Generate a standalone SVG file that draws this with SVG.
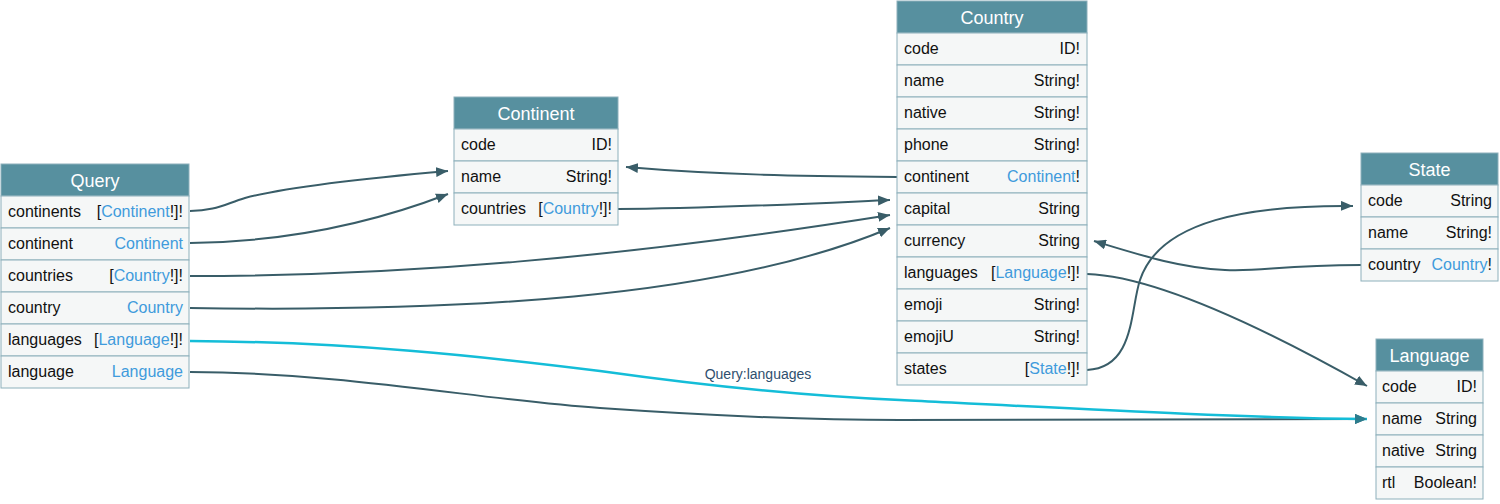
<svg xmlns="http://www.w3.org/2000/svg" width="1500" height="504" viewBox="0 0 1500 504">
<style>
.hd{fill:#57909f;stroke:#8db0bb;stroke-width:1}
.rw{fill:#f5f7f7;stroke:#8db0bb;stroke-width:1}
.ht{font-family:"Liberation Sans",Arial,sans-serif;font-size:18px;fill:#ffffff;text-anchor:middle}
.fn{font-family:"Liberation Sans",Arial,sans-serif;font-size:16px;fill:#111111}
.ft{font-family:"Liberation Sans",Arial,sans-serif;font-size:16px;fill:#111111;text-anchor:end}
.lk{fill:#3f9bdc}
.e{fill:none;stroke:#395d68;stroke-width:2}
.hl{fill:none;stroke:#14bdd8;stroke-width:2.5}
.lbl{font-family:"Liberation Sans",Arial,sans-serif;font-size:14px;fill:#2f4f6e;text-anchor:middle}
</style>
<defs>
<marker id="a" viewBox="0 0 12 10" refX="12" refY="5" markerWidth="12" markerHeight="10" markerUnits="userSpaceOnUse" orient="auto">
<path d="M0,0 L12,5 L0,10 Z" fill="#395d68"/>
</marker>
<marker id="ah" viewBox="0 0 12 10" refX="12" refY="5" markerWidth="12" markerHeight="10" markerUnits="userSpaceOnUse" orient="auto">
<path d="M0,0 L12,5 L0,10 Z" fill="#2c7d8e"/>
</marker>
</defs>

<g id="connectors">
<path class="e" d="M190,211 C215,211 225,204 245,198 C290,186 380,177 448,171" marker-end="url(#a)"/>
<path class="e" d="M190,243 C270,242 360,228 448,194" marker-end="url(#a)"/>
<path class="e" d="M190,276 C400,276 620,258 890,215" marker-end="url(#a)"/>
<path class="e" d="M190,308 C450,312 720,300 890,228" marker-end="url(#a)"/>
<path class="e" d="M190,372 C350,373 480,400 600,408 C700,415 800,420 900,420 L1367,419" marker-end="url(#a)"/>
<path class="hl" d="M190,341 C350,342 480,356 600,371 C700,385 800,396 900,400 C1100,410 1250,418 1367,419" marker-end="url(#ah)"/>
<text class="lbl" x="758" y="379">Query:languages</text>
<path class="e" d="M618,209 C700,209 800,204 890,200" marker-end="url(#a)"/>
<path class="e" d="M897,177 C800,176 720,175 626,167" marker-end="url(#a)"/>
<path class="e" d="M1087,274 C1150,276 1250,320 1367,386" marker-end="url(#a)"/>
<path class="e" d="M1087,370 C1135,368 1130,310 1140,280 C1160,220 1250,205 1353,206" marker-end="url(#a)"/>
<path class="e" d="M1361,265 C1280,265 1260,272 1225,270 C1180,268 1140,255 1094,241" marker-end="url(#a)"/>
</g>

<g id="Query">
<rect class="hd" x="1" y="164" width="188" height="32"/>
<text class="ht" x="95" y="186.5">Query</text>
<rect class="rw" x="1" y="196" width="188" height="32"/>
<text class="fn" x="8" y="217">continents</text>
<text class="ft" x="183" y="217">[<tspan class="lk">Continent</tspan>!]!</text>
<rect class="rw" x="1" y="228" width="188" height="32"/>
<text class="fn" x="8" y="249">continent</text>
<text class="ft" x="183" y="249"><tspan class="lk">Continent</tspan></text>
<rect class="rw" x="1" y="260" width="188" height="32"/>
<text class="fn" x="8" y="281">countries</text>
<text class="ft" x="183" y="281">[<tspan class="lk">Country</tspan>!]!</text>
<rect class="rw" x="1" y="292" width="188" height="32"/>
<text class="fn" x="8" y="313">country</text>
<text class="ft" x="183" y="313"><tspan class="lk">Country</tspan></text>
<rect class="rw" x="1" y="324" width="188" height="32"/>
<text class="fn" x="8" y="345">languages</text>
<text class="ft" x="183" y="345">[<tspan class="lk">Language</tspan>!]!</text>
<rect class="rw" x="1" y="356" width="188" height="32"/>
<text class="fn" x="8" y="377">language</text>
<text class="ft" x="183" y="377"><tspan class="lk">Language</tspan></text>
</g>

<g id="Continent">
<rect class="hd" x="454" y="97" width="164" height="32"/>
<text class="ht" x="536" y="119.5">Continent</text>
<rect class="rw" x="454" y="129" width="164" height="32"/>
<text class="fn" x="461" y="150">code</text>
<text class="ft" x="612" y="150">ID!</text>
<rect class="rw" x="454" y="161" width="164" height="32"/>
<text class="fn" x="461" y="182">name</text>
<text class="ft" x="612" y="182">String!</text>
<rect class="rw" x="454" y="193" width="164" height="32"/>
<text class="fn" x="461" y="214">countries</text>
<text class="ft" x="612" y="214">[<tspan class="lk">Country</tspan>!]!</text>
</g>

<g id="Country">
<rect class="hd" x="897" y="1" width="190" height="32"/>
<text class="ht" x="992" y="23.5">Country</text>
<rect class="rw" x="897" y="33" width="190" height="32"/>
<text class="fn" x="904" y="54">code</text>
<text class="ft" x="1080" y="54">ID!</text>
<rect class="rw" x="897" y="65" width="190" height="32"/>
<text class="fn" x="904" y="86">name</text>
<text class="ft" x="1080" y="86">String!</text>
<rect class="rw" x="897" y="97" width="190" height="32"/>
<text class="fn" x="904" y="118">native</text>
<text class="ft" x="1080" y="118">String!</text>
<rect class="rw" x="897" y="129" width="190" height="32"/>
<text class="fn" x="904" y="150">phone</text>
<text class="ft" x="1080" y="150">String!</text>
<rect class="rw" x="897" y="161" width="190" height="32"/>
<text class="fn" x="904" y="182">continent</text>
<text class="ft" x="1080" y="182"><tspan class="lk">Continent</tspan>!</text>
<rect class="rw" x="897" y="193" width="190" height="32"/>
<text class="fn" x="904" y="214">capital</text>
<text class="ft" x="1080" y="214">String</text>
<rect class="rw" x="897" y="225" width="190" height="32"/>
<text class="fn" x="904" y="246">currency</text>
<text class="ft" x="1080" y="246">String</text>
<rect class="rw" x="897" y="257" width="190" height="32"/>
<text class="fn" x="904" y="278">languages</text>
<text class="ft" x="1080" y="278">[<tspan class="lk">Language</tspan>!]!</text>
<rect class="rw" x="897" y="289" width="190" height="32"/>
<text class="fn" x="904" y="310">emoji</text>
<text class="ft" x="1080" y="310">String!</text>
<rect class="rw" x="897" y="321" width="190" height="32"/>
<text class="fn" x="904" y="342">emojiU</text>
<text class="ft" x="1080" y="342">String!</text>
<rect class="rw" x="897" y="353" width="190" height="32"/>
<text class="fn" x="904" y="374">states</text>
<text class="ft" x="1080" y="374">[<tspan class="lk">State</tspan>!]!</text>
</g>

<g id="State">
<rect class="hd" x="1361" y="153" width="137" height="32"/>
<text class="ht" x="1429.5" y="175.5">State</text>
<rect class="rw" x="1361" y="185" width="137" height="32"/>
<text class="fn" x="1368" y="206">code</text>
<text class="ft" x="1492" y="206">String</text>
<rect class="rw" x="1361" y="217" width="137" height="32"/>
<text class="fn" x="1368" y="238">name</text>
<text class="ft" x="1492" y="238">String!</text>
<rect class="rw" x="1361" y="249" width="137" height="32"/>
<text class="fn" x="1368" y="270">country</text>
<text class="ft" x="1492" y="270"><tspan class="lk">Country</tspan>!</text>
</g>

<g id="Language">
<rect class="hd" x="1376" y="339" width="107" height="32"/>
<text class="ht" x="1429.5" y="361.5">Language</text>
<rect class="rw" x="1376" y="371" width="107" height="32"/>
<text class="fn" x="1382" y="392">code</text>
<text class="ft" x="1477" y="392">ID!</text>
<rect class="rw" x="1376" y="403" width="107" height="32"/>
<text class="fn" x="1382" y="424">name</text>
<text class="ft" x="1477" y="424">String</text>
<rect class="rw" x="1376" y="435" width="107" height="32"/>
<text class="fn" x="1382" y="456">native</text>
<text class="ft" x="1477" y="456">String</text>
<rect class="rw" x="1376" y="467" width="107" height="32"/>
<text class="fn" x="1382" y="488">rtl</text>
<text class="ft" x="1477" y="488">Boolean!</text>
</g>
</svg>
